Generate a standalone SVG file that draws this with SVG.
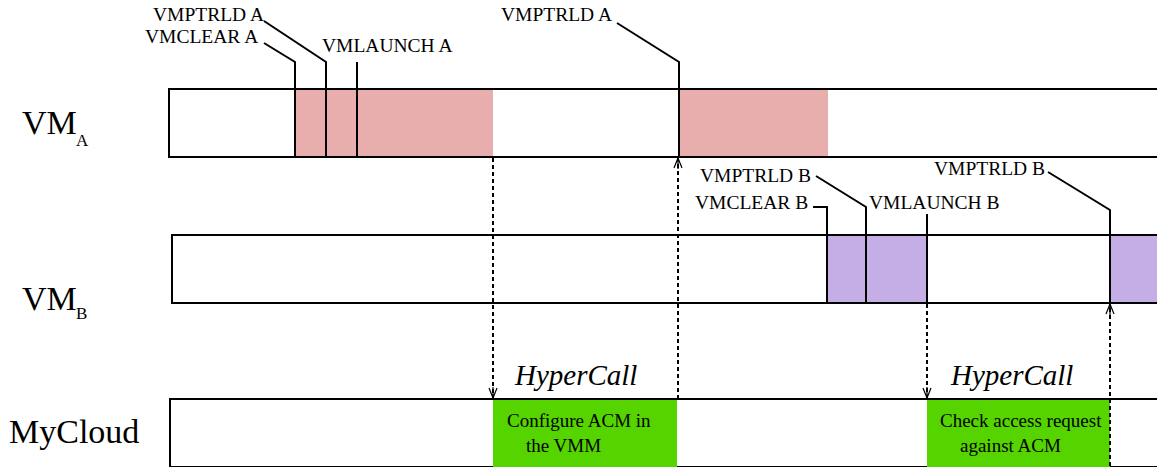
<svg xmlns="http://www.w3.org/2000/svg" width="1157" height="467" viewBox="0 0 1157 467">
  <style>
    .lane { fill: #ffffff; stroke: #000000; stroke-width: 2; }
    .run-a { fill: #e8aeae; }
    .run-b { fill: #c5aee6; }
    .svc { fill: #55d400; }
    .lead { fill: none; stroke: #000000; stroke-width: 2; }
    .call { fill: none; stroke: #000000; stroke-width: 2; stroke-dasharray: 4 3; }
    .lbl { font-family: "Liberation Serif", "Times New Roman", serif; font-size: 19.5px; fill: #000000; }
    .lane-lbl { font-family: "Liberation Serif", "Times New Roman", serif; font-size: 34px; fill: #000000; }
    .sub { font-family: "Liberation Serif", "Times New Roman", serif; font-size: 17px; fill: #000000; }
    .hc { font-family: "Liberation Serif", "Times New Roman", serif; font-size: 29px; font-style: italic; fill: #000000; }
    .svc-txt { font-family: "Liberation Serif", "Times New Roman", serif; font-size: 19px; fill: #000000; }
  </style>
  <defs>
    <!-- open arrowhead with a centre stem, tip at the line end -->
    <marker id="open-arrow" viewBox="0 0 13 10" refX="12" refY="5" markerWidth="13" markerHeight="10" markerUnits="userSpaceOnUse" orient="auto">
      <path d="M2,1 L12,5 L2,9 M12,5 L1,5" fill="none" stroke="#000000" stroke-width="1.2"/>
    </marker>
  </defs>

  <rect width="1157" height="467" fill="#ffffff"/>

  <!-- VM A timeline -->
  <g id="lane-vm-a">
    <rect class="lane" x="169" y="89" width="1000" height="68"/>
    <rect class="run-a" x="295" y="90" width="198" height="66"/>
    <rect class="run-a" x="679" y="90" width="149" height="66"/>
    <text class="lane-lbl" x="22" y="134">VM</text>
    <text class="sub" x="76" y="146">A</text>
  </g>

  <!-- VM B timeline -->
  <g id="lane-vm-b">
    <rect class="lane" x="172" y="235" width="1000" height="68"/>
    <rect class="run-b" x="827" y="236" width="100" height="66"/>
    <rect class="run-b" x="1110" y="236" width="60" height="66"/>
    <text class="lane-lbl" x="22" y="310">VM</text>
    <text class="sub" x="76" y="319">B</text>
  </g>

  <!-- MyCloud timeline with hypercall handlers -->
  <g id="lane-mycloud">
    <rect class="lane" x="170" y="399" width="1000" height="68"/>
    <rect class="svc" x="493" y="400" width="184" height="67"/>
    <rect class="svc" x="927" y="400" width="183" height="67"/>
    <text class="lane-lbl" x="9" y="443">MyCloud</text>
  </g>

  <g id="hypercall-1">
    <text class="hc" x="515" y="385">HyperCall</text>
    <text class="svc-txt" x="507" y="427">Configure ACM in</text>
    <text class="svc-txt" x="526" y="452">the VMM</text>
  </g>
  <g id="hypercall-2">
    <text class="hc" x="951" y="385">HyperCall</text>
    <text class="svc-txt" x="940" y="427">Check access request</text>
    <text class="svc-txt" x="960" y="452">against ACM</text>
  </g>

  <!-- instruction labels -->
  <g id="events-a">
    <text class="lbl" x="153" y="21">VMPTRLD A</text>
    <text class="lbl" x="145" y="43">VMCLEAR A</text>
    <text class="lbl" x="322" y="52">VMLAUNCH A</text>
    <text class="lbl" x="501" y="21">VMPTRLD A</text>
  </g>
  <g id="events-b">
    <text class="lbl" x="700" y="182">VMPTRLD B</text>
    <text class="lbl" x="695" y="209">VMCLEAR B</text>
    <text class="lbl" x="869" y="209">VMLAUNCH B</text>
    <text class="lbl" x="934" y="175">VMPTRLD B</text>
  </g>

  <g id="connectors">
    <!-- leader lines to event instants -->
    <polyline class="lead" points="264,43 295,62 295,157"/>
    <polyline class="lead" points="264,21 326,62 326,157"/>
    <polyline class="lead" points="357,62 357,157"/>
    <polyline class="lead" points="617,23 679,62 679,157"/>
    <polyline class="lead" points="813,207 827,207 827,303"/>
    <polyline class="lead" points="816,176 866,207 866,303"/>
    <polyline class="lead" points="927,214 927,303"/>
    <polyline class="lead" points="1048,172 1110,210 1110,303"/>

    <!-- hypercall transitions -->
    <line class="call" x1="493" y1="158" x2="493" y2="398" marker-end="url(#open-arrow)"/>
    <line class="call" x1="678" y1="399" x2="678" y2="158" marker-end="url(#open-arrow)"/>
    <line class="call" x1="927" y1="304" x2="927" y2="398" marker-end="url(#open-arrow)"/>
    <line class="call" x1="1110" y1="466" x2="1110" y2="304" marker-end="url(#open-arrow)"/>
  </g>
</svg>
